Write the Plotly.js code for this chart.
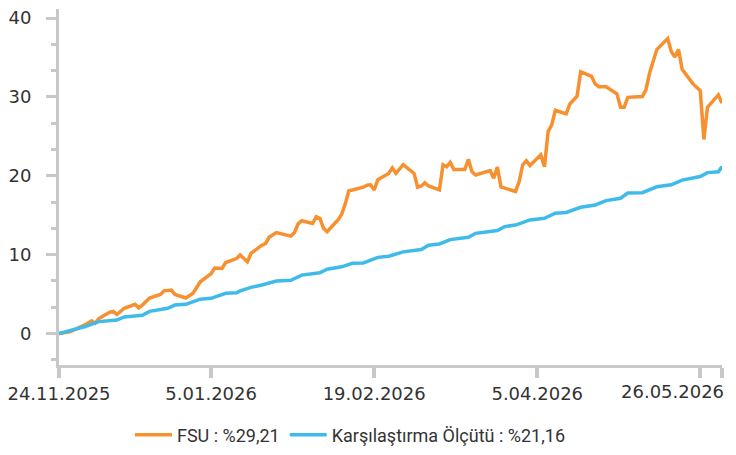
<!DOCTYPE html>
<html>
<head>
<meta charset="utf-8">
<script src="https://cdn.plot.ly/plotly-3.0.1.min.js"></script>
<style>html,body{margin:0;padding:0;background:#fff;}#chart{width:736px;height:455px;}</style>
</head>
<body>
<div id="chart"></div>
<script>
// FSU fund cumulative return (%)
var fsuDates = ["2025-11-24","2025-11-27","2025-12-01","2025-12-03","2025-12-04","2025-12-05","2025-12-08","2025-12-09","2025-12-10","2025-12-12",
"2025-12-15","2025-12-16","2025-12-17","2025-12-19","2025-12-22","2025-12-23","2025-12-25","2025-12-26","2025-12-29","2025-12-31",
"2026-01-02","2026-01-05","2026-01-06","2026-01-08","2026-01-09","2026-01-12","2026-01-13","2026-01-15","2026-01-16","2026-01-19",
"2026-01-20","2026-01-21","2026-01-23","2026-01-26","2026-01-27","2026-01-28","2026-01-29","2026-01-30","2026-02-02","2026-02-03",
"2026-02-04","2026-02-05","2026-02-06","2026-02-09","2026-02-10","2026-02-11","2026-02-12","2026-02-13","2026-02-16","2026-02-17",
"2026-02-18","2026-02-19","2026-02-20","2026-02-23","2026-02-24","2026-02-25","2026-02-27","2026-03-02","2026-03-03","2026-03-04",
"2026-03-05","2026-03-06","2026-03-09","2026-03-10","2026-03-11","2026-03-12","2026-03-13","2026-03-16","2026-03-17","2026-03-18",
"2026-03-19","2026-03-23","2026-03-24","2026-03-25","2026-03-26","2026-03-30","2026-03-31","2026-04-01","2026-04-02","2026-04-03",
"2026-04-06","2026-04-07","2026-04-08","2026-04-09","2026-04-10","2026-04-13","2026-04-14","2026-04-16","2026-04-17","2026-04-20",
"2026-04-21","2026-04-22","2026-04-24","2026-04-27","2026-04-28","2026-04-29","2026-04-30","2026-05-04","2026-05-05","2026-05-06",
"2026-05-07","2026-05-08","2026-05-11","2026-05-12","2026-05-13","2026-05-14","2026-05-15","2026-05-18","2026-05-20","2026-05-21",
"2026-05-22","2026-05-25","2026-05-26"];
var fsuValues = [0,0.2,1.05,1.6,1.3,1.9,2.7,2.8,2.4,3.2,
3.7,3.25,3.6,4.5,4.95,5.4,5.5,4.95,4.5,5.1,
6.55,7.6,8.3,8.25,9.0,9.5,9.95,9.1,10.15,11.2,
11.4,12.2,12.8,12.5,12.35,12.8,13.9,14.3,13.95,14.8,
14.6,13.35,12.9,14.4,15.1,16.4,18.1,18.2,18.55,18.8,
18.85,18.2,19.5,20.3,21.0,20.3,21.4,20.3,18.55,18.7,
19.1,18.7,18.2,21.4,21.15,21.7,20.8,20.8,22.1,20.5,
20.1,20.65,19.7,21.1,18.6,18.0,19.25,21.4,21.9,21.3,
22.65,21.15,25.6,26.45,28.3,27.85,29.1,30.1,33.2,32.6,
31.65,31.3,31.3,30.4,28.7,28.7,29.95,30.05,30.9,33.0,
34.5,36.0,37.4,35.75,35.05,36.0,33.5,31.65,30.8,24.6,
28.7,30.25,29.21];

// Benchmark cumulative return (%)
var benchDates = ["2025-11-24","2025-12-01","2025-12-05","2025-12-10","2025-12-12","2025-12-17","2025-12-19","2025-12-24","2025-12-26","2025-12-29",
"2026-01-02","2026-01-05","2026-01-09","2026-01-12","2026-01-13","2026-01-16","2026-01-19","2026-01-23","2026-01-27","2026-01-30",
"2026-02-04","2026-02-06","2026-02-10","2026-02-13","2026-02-16","2026-02-20","2026-02-23","2026-02-27","2026-03-04","2026-03-06",
"2026-03-09","2026-03-12","2026-03-17","2026-03-19","2026-03-25","2026-03-27","2026-03-30","2026-04-03","2026-04-07","2026-04-10",
"2026-04-13","2026-04-17","2026-04-21","2026-04-24","2026-04-28","2026-04-30","2026-05-04","2026-05-08","2026-05-12","2026-05-15",
"2026-05-20","2026-05-22","2026-05-25","2026-05-26"];
var benchValues = [0,0.85,1.5,1.7,2.1,2.3,2.8,3.2,3.6,3.7,
4.35,4.45,5.1,5.15,5.4,5.85,6.15,6.65,6.75,7.4,
7.7,8.15,8.45,8.9,8.95,9.65,9.8,10.35,10.65,11.2,
11.35,11.9,12.2,12.7,13.05,13.55,13.75,14.4,14.6,15.25,
15.35,16.0,16.3,16.85,17.15,17.8,17.85,18.6,18.85,19.45,
19.9,20.4,20.5,21.16];

var seriesNames = ["FSU : %29,21", "Karşılaştırma Ölçütü : %21,16"];
var tickDates = ["2025-11-24","2026-01-05","2026-02-19","2026-04-05","2026-05-20","2026-05-26"];
var tickLabels = ["24.11.2025","5.01.2026","19.02.2026","5.04.2026","",""];
var endLabel = "26.05.2026";
var yTicks = [0,10,20,30,40];

var axisGrey = "#c8c8c8";
var traces = [
  {x: fsuDates, y: fsuValues, name: seriesNames[0], type: "scatter", mode: "lines",
   line: {color: "#f7902e", width: 3.5}},
  {x: benchDates, y: benchValues, name: seriesNames[1], type: "scatter", mode: "lines",
   line: {color: "#3fbbeb", width: 3.5}}
];

var layout = {
  width: 736, height: 455,
  margin: {l: 59, r: 14, t: 9, b: 90, autoexpand: false},
  paper_bgcolor: "#fff", plot_bgcolor: "#fff",
  font: {family: "DejaVu Sans", size: 18, color: "#333"},
  showlegend: true,
  legend: {orientation: "h", x: 0.107, xanchor: "left", y: -0.197, yanchor: "middle",
           font: {family: "Roboto", size: 18, color: "#333"}, itemwidth: 37},
  xaxis: {
    type: "date", range: ["2025-11-24", "2026-05-26"],
    tickmode: "array", tickvals: tickDates, ticktext: tickLabels,
    showgrid: false, zeroline: false, showline: true, linecolor: axisGrey, linewidth: 3,
    ticks: "outside", ticklen: 10, tickwidth: 4, tickcolor: axisGrey,
    tickfont: {family: "DejaVu Sans", size: 18, color: "#333"}
  },
  yaxis: {
    range: [-4, 41.15], tickmode: "array", tickvals: yTicks,
    showgrid: false, zeroline: false, showline: true, linecolor: axisGrey, linewidth: 3,
    ticks: "outside", ticklen: 10, tickwidth: 3, tickcolor: axisGrey,
    ticklabelstandoff: 11,
    minor: {dtick: 10/3, tick0: 0, ticks: "outside", ticklen: 5, tickwidth: 3, tickcolor: axisGrey, showgrid: false},
    tickfont: {family: "DejaVu Sans", size: 18, color: "#333"}
  },
  annotations: [
    {text: endLabel, xref: "x", x: "2026-05-26", xanchor: "right", xshift: 4,
     yref: "paper", y: 0, yanchor: "top", yshift: -14, showarrow: false,
     font: {family: "DejaVu Sans", size: 18, color: "#333"}}
  ]
};

Plotly.newPlot("chart", traces, layout, {displayModeBar: false, staticPlot: true});
</script>
</body>
</html>
